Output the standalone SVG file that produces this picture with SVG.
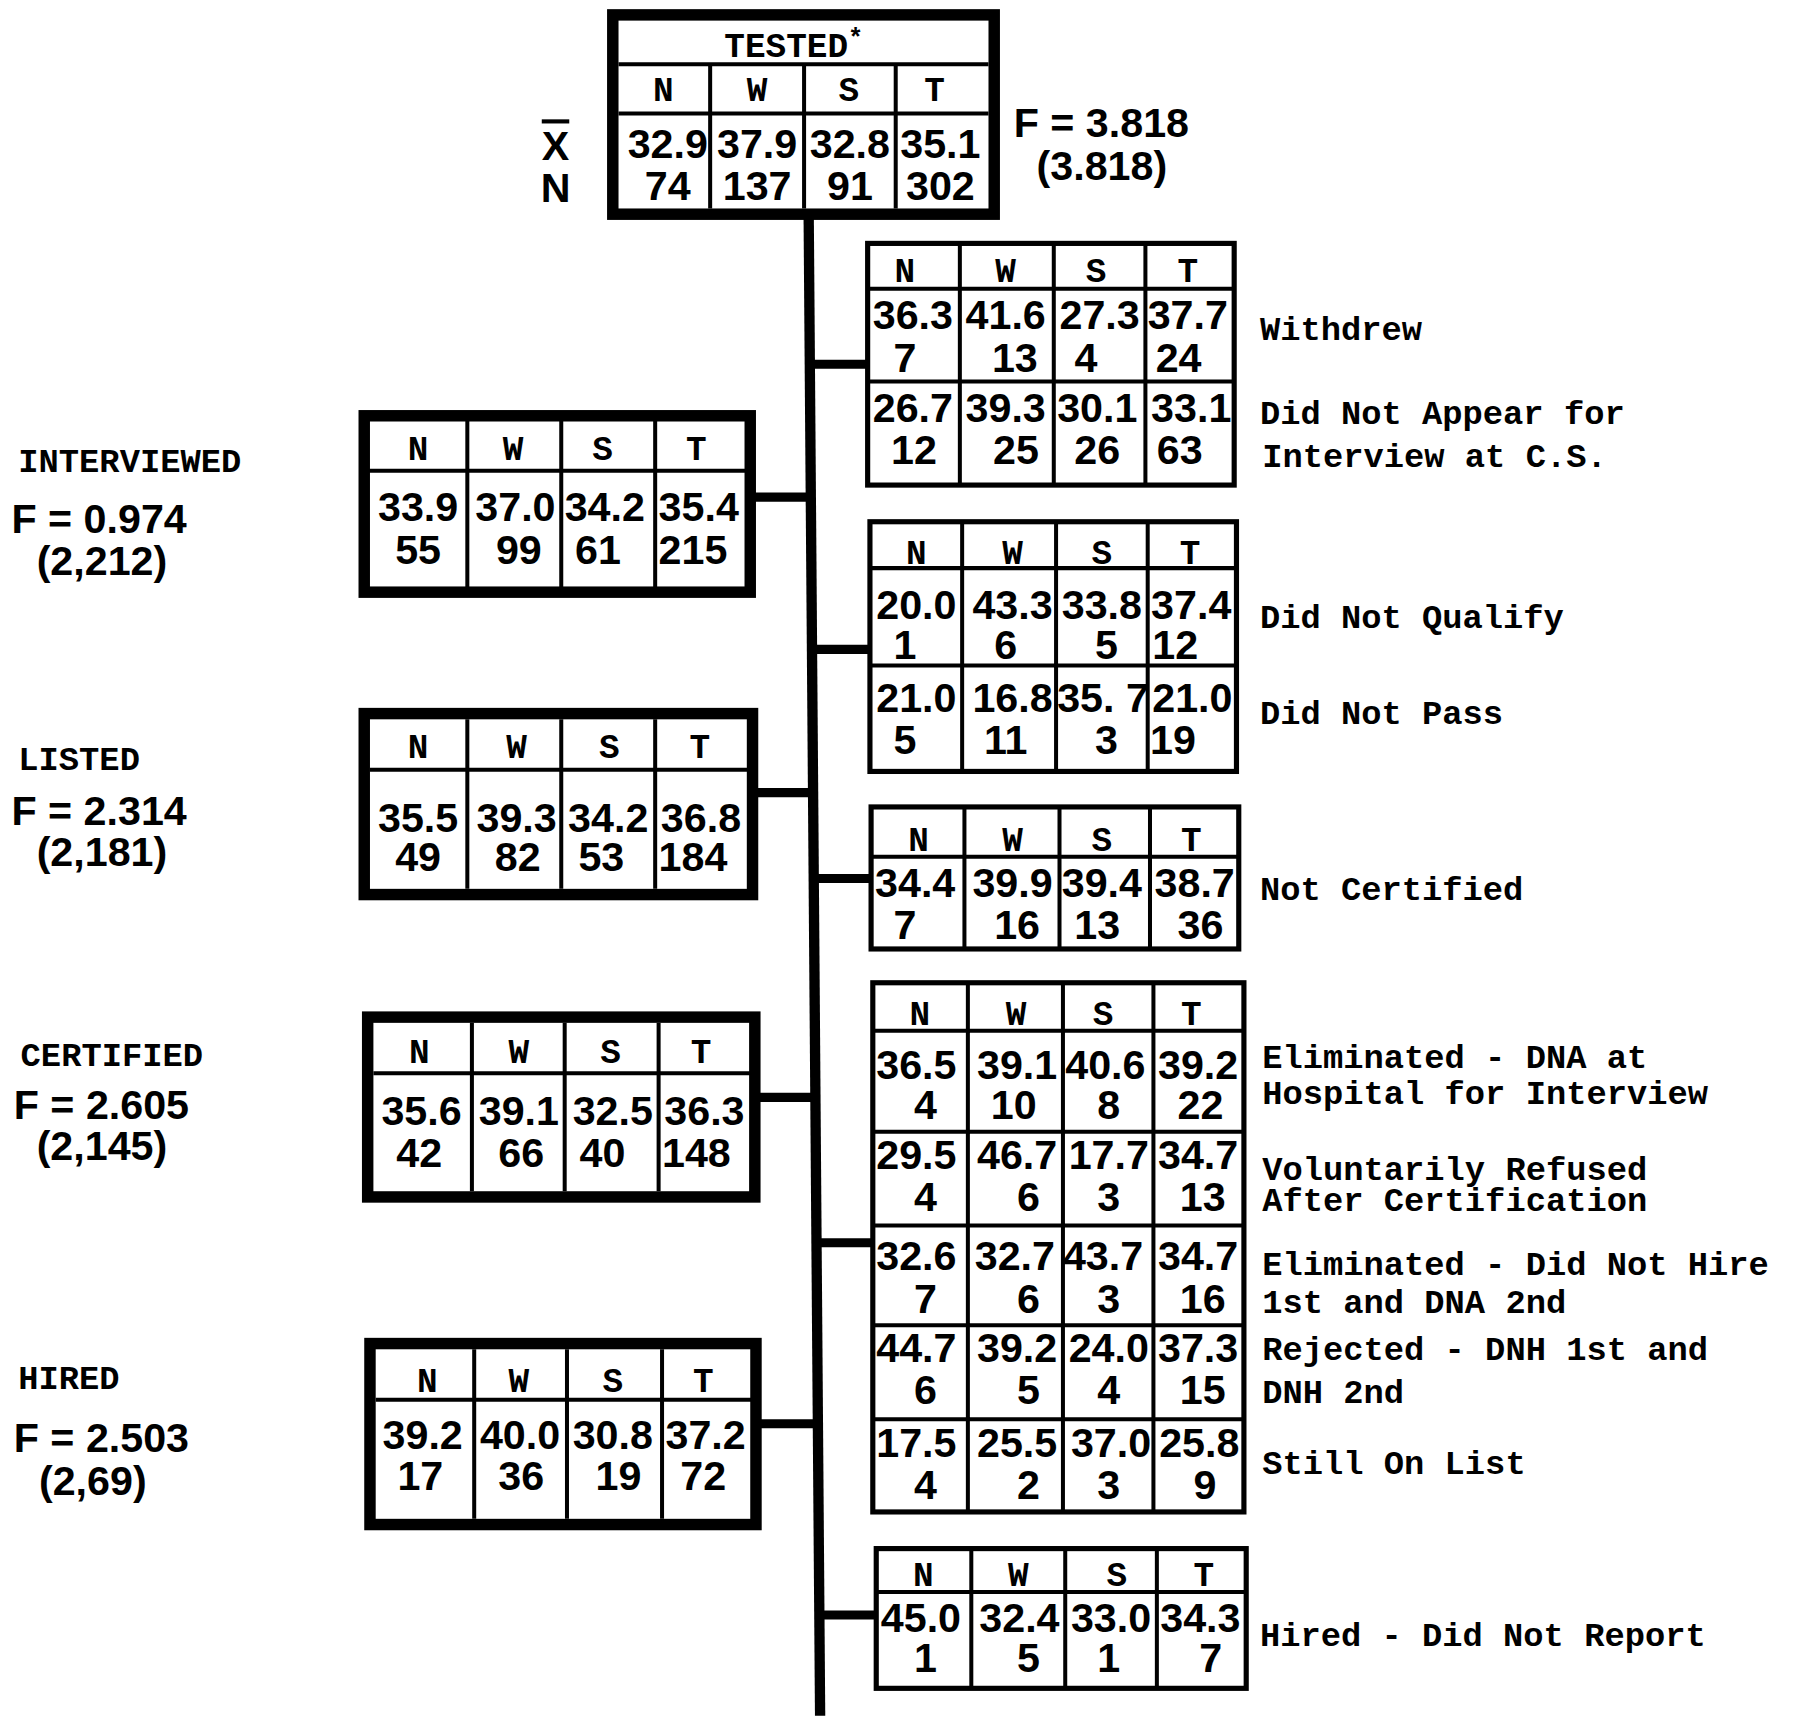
<svg xmlns="http://www.w3.org/2000/svg" width="1796" height="1716" viewBox="0 0 1796 1716">
<style>
.bk{fill:#fff;stroke:#000;stroke-width:10}
.bx{fill:#fff;stroke:#000;stroke-width:4.5}
.g{stroke:#000;stroke-width:3.5;fill:none}
.c{stroke:#000;stroke-width:8;fill:none}
.tr{stroke:#000;stroke-width:9;fill:none}
.n{font-family:"Liberation Sans",Arial,sans-serif;font-weight:bold;font-size:36px;text-anchor:middle;fill:#000}
.f{font-family:"Liberation Sans",Arial,sans-serif;font-weight:bold;font-size:36px;fill:#000}
.h{font-family:"Liberation Mono","Courier New",monospace;font-weight:bold;font-size:30px;text-anchor:middle;fill:#000}
.l{font-family:"Liberation Mono","Courier New",monospace;font-weight:bold;font-size:29.5px;fill:#000}
</style>
<rect width="1796" height="1716" fill="#fff"/>
<g transform="scale(1.14541)">
<g id="connectors">
<line class="tr" x1="706" y1="186" x2="716" y2="1498"/>
<line class="c" x1="707" y1="318" x2="757" y2="318"/>
<line class="c" x1="710" y1="567" x2="759" y2="567"/>
<line class="c" x1="712" y1="767" x2="760" y2="767"/>
<line class="c" x1="714" y1="1085" x2="762" y2="1085"/>
<line class="c" x1="716" y1="1410" x2="765" y2="1410"/>
<line class="c" x1="658" y1="434" x2="707" y2="434"/>
<line class="c" x1="660" y1="692" x2="709" y2="692"/>
<line class="c" x1="662" y1="958" x2="711" y2="958"/>
<line class="c" x1="663" y1="1243" x2="713" y2="1243"/>
</g>

<g id="tested">
<rect class="bk" x="535" y="13" width="333" height="174"/>
<path class="g" d="M540 56H863M540 99H863M620 56V182M702 56V182M782 56V182"/>
<text class="h" x="693" y="50">TESTED<tspan font-size="22" dy="-10">*</tspan></text>
<text class="h" x="579" y="88">N</text><text class="h" x="661" y="88">W</text><text class="h" x="741" y="88">S</text><text class="h" x="816" y="88">T</text>
<text class="n" x="583" y="138">32.9</text><text class="n" x="583" y="175">74</text>
<text class="n" x="661" y="138">37.9</text><text class="n" x="661" y="175">137</text>
<text class="n" x="742" y="138">32.8</text><text class="n" x="742" y="175">91</text>
<text class="n" x="821" y="138">35.1</text><text class="n" x="821" y="175">302</text>
<text class="n" x="485" y="140" text-decoration="overline">X</text>
<text class="n" x="485" y="176">N</text>
<text class="f" x="885" y="120">F = 3.818</text>
<text class="f" x="905" y="157">(3.818)</text>
</g>

<g id="withdrew">
<rect class="bx" x="757.5" y="212.5" width="320" height="211"/>
<path class="g" d="M758 252H1078M758 333H1078M838 212V424M920 212V424M1000 212V424"/>
<text class="h" x="790" y="246">N</text><text class="h" x="878" y="246">W</text><text class="h" x="957" y="246">S</text><text class="h" x="1037" y="246">T</text>
<text class="n" x="797" y="287">36.3</text><text class="n" x="790" y="325">7</text>
<text class="n" x="878" y="287">41.6</text><text class="n" x="886" y="325">13</text>
<text class="n" x="960" y="287">27.3</text><text class="n" x="948" y="325">4</text>
<text class="n" x="1037" y="287">37.7</text><text class="n" x="1029" y="325">24</text>
<text class="n" x="797" y="368">26.7</text><text class="n" x="798" y="405">12</text>
<text class="n" x="878" y="368">39.3</text><text class="n" x="887" y="405">25</text>
<text class="n" x="958" y="368">30.1</text><text class="n" x="958" y="405">26</text>
<text class="n" x="1040" y="368">33.1</text><text class="n" x="1030" y="405">63</text>
<text class="l" x="1100" y="297">Withdrew</text>
<text class="l" x="1100" y="370">Did Not Appear for</text>
<text class="l" x="1102" y="408">Interview at C.S.</text>
</g>

<g id="dnq">
<rect class="bx" x="759.5" y="455.5" width="320" height="218"/>
<path class="g" d="M760 496H1080M760 581H1080M840 456V674M922 456V674M1002 456V674"/>
<text class="h" x="800" y="492">N</text><text class="h" x="884" y="492">W</text><text class="h" x="962" y="492">S</text><text class="h" x="1039" y="492">T</text>
<text class="n" x="800" y="540">20.0</text><text class="n" x="790" y="575">1</text>
<text class="n" x="884" y="540">43.3</text><text class="n" x="878" y="575">6</text>
<text class="n" x="962" y="540">33.8</text><text class="n" x="966" y="575">5</text>
<text class="n" x="1040" y="540">37.4</text><text class="n" x="1026" y="575">12</text>
<text class="n" x="800" y="622">21.0</text><text class="n" x="790" y="658">5</text>
<text class="n" x="884" y="622">16.8</text><text class="n" x="878" y="658">11</text>
<text class="n" x="963" y="622">35. 7</text><text class="n" x="966" y="658">3</text>
<text class="n" x="1041" y="622">21.0</text><text class="n" x="1024" y="658">19</text>
<text class="l" x="1100" y="548">Did Not Qualify</text>
<text class="l" x="1100" y="632">Did Not Pass</text>
</g>

<g id="notcert">
<rect class="bx" x="760.5" y="704.5" width="321" height="124"/>
<path class="g" d="M761 748H1082M842 705V828M925 705V828M1004 705V828"/>
<text class="h" x="802" y="743">N</text><text class="h" x="884" y="743">W</text><text class="h" x="962" y="743">S</text><text class="h" x="1040" y="743">T</text>
<text class="n" x="799" y="783">34.4</text><text class="n" x="790" y="820">7</text>
<text class="n" x="884" y="783">39.9</text><text class="n" x="888" y="820">16</text>
<text class="n" x="962" y="783">39.4</text><text class="n" x="958" y="820">13</text>
<text class="n" x="1043" y="783">38.7</text><text class="n" x="1048" y="820">36</text>
<text class="l" x="1100" y="786">Not Certified</text>
</g>

<g id="postcert">
<rect class="bx" x="762" y="858" width="324" height="462"/>
<path class="g" d="M762 900H1086M762 988H1086M762 1070H1086M762 1157H1086M762 1239H1086M845 858V1320M928 858V1320M1007 858V1320"/>
<text class="h" x="803" y="895">N</text><text class="h" x="887" y="895">W</text><text class="h" x="963" y="895">S</text><text class="h" x="1040" y="895">T</text>
<text class="n" x="800" y="942">36.5</text><text class="n" x="808" y="977">4</text>
<text class="n" x="888" y="942">39.1</text><text class="n" x="885" y="977">10</text>
<text class="n" x="965" y="942">40.6</text><text class="n" x="968" y="977">8</text>
<text class="n" x="1046" y="942">39.2</text><text class="n" x="1048" y="977">22</text>
<text class="n" x="800" y="1021">29.5</text><text class="n" x="808" y="1057">4</text>
<text class="n" x="888" y="1021">46.7</text><text class="n" x="898" y="1057">6</text>
<text class="n" x="968" y="1021">17.7</text><text class="n" x="968" y="1057">3</text>
<text class="n" x="1046" y="1021">34.7</text><text class="n" x="1050" y="1057">13</text>
<text class="n" x="800" y="1109">32.6</text><text class="n" x="808" y="1146">7</text>
<text class="n" x="886" y="1109">32.7</text><text class="n" x="898" y="1146">6</text>
<text class="n" x="963" y="1109">43.7</text><text class="n" x="968" y="1146">3</text>
<text class="n" x="1046" y="1109">34.7</text><text class="n" x="1050" y="1146">16</text>
<text class="n" x="800" y="1189">44.7</text><text class="n" x="808" y="1226">6</text>
<text class="n" x="888" y="1189">39.2</text><text class="n" x="898" y="1226">5</text>
<text class="n" x="968" y="1189">24.0</text><text class="n" x="968" y="1226">4</text>
<text class="n" x="1046" y="1189">37.3</text><text class="n" x="1050" y="1226">15</text>
<text class="n" x="800" y="1272">17.5</text><text class="n" x="808" y="1309">4</text>
<text class="n" x="888" y="1272">25.5</text><text class="n" x="898" y="1309">2</text>
<text class="n" x="970" y="1272">37.0</text><text class="n" x="968" y="1309">3</text>
<text class="n" x="1047" y="1272">25.8</text><text class="n" x="1052" y="1309">9</text>
<text class="l" x="1102" y="932">Eliminated - DNA at</text>
<text class="l" x="1102" y="964">Hospital for Interview</text>
<text class="l" x="1102" y="1030">Voluntarily Refused</text>
<text class="l" x="1102" y="1057">After Certification</text>
<text class="l" x="1102" y="1113">Eliminated - Did Not Hire</text>
<text class="l" x="1102" y="1146">1st and DNA 2nd</text>
<text class="l" x="1102" y="1187">Rejected - DNH 1st and</text>
<text class="l" x="1102" y="1225">DNH 2nd</text>
<text class="l" x="1102" y="1287">Still On List</text>
</g>

<g id="hiredDNR">
<rect class="bx" x="765" y="1352" width="323" height="122"/>
<path class="g" d="M765 1390H1088M848 1352V1474M930 1352V1474M1010 1352V1474"/>
<text class="h" x="806" y="1385">N</text><text class="h" x="889" y="1385">W</text><text class="h" x="975" y="1385">S</text><text class="h" x="1051" y="1385">T</text>
<text class="n" x="804" y="1425">45.0</text><text class="n" x="808" y="1460">1</text>
<text class="n" x="890" y="1425">32.4</text><text class="n" x="898" y="1460">5</text>
<text class="n" x="970" y="1425">33.0</text><text class="n" x="968" y="1460">1</text>
<text class="n" x="1048" y="1425">34.3</text><text class="n" x="1057" y="1460">7</text>
<text class="l" x="1100" y="1437">Hired - Did Not Report</text>
</g>

<g id="interviewed">
<rect class="bk" x="318" y="363" width="337" height="154" stroke-width="9"/>
<path class="g" d="M322 411H652M408 367V513M490 367V513M572 367V513"/>
<text class="h" x="365" y="402">N</text><text class="h" x="448" y="402">W</text><text class="h" x="526" y="402">S</text><text class="h" x="608" y="402">T</text>
<text class="n" x="365" y="455">33.9</text><text class="n" x="365" y="492">55</text>
<text class="n" x="450" y="455">37.0</text><text class="n" x="453" y="492">99</text>
<text class="n" x="528" y="455">34.2</text><text class="n" x="522" y="492">61</text>
<text class="n" x="610" y="455">35.4</text><text class="n" x="605" y="492">215</text>
<text class="l" x="16" y="412">INTERVIEWED</text>
<text class="f" x="10" y="465">F = 0.974</text>
<text class="f" x="32" y="502">(2,212)</text>
</g>

<g id="listed">
<rect class="bk" x="318" y="623" width="339" height="158" stroke-width="9"/>
<path class="g" d="M323 672H653M408 628V776M490 628V776M572 628V776"/>
<text class="h" x="365" y="662">N</text><text class="h" x="451" y="662">W</text><text class="h" x="532" y="662">S</text><text class="h" x="611" y="662">T</text>
<text class="n" x="365" y="726">35.5</text><text class="n" x="365" y="760">49</text>
<text class="n" x="451" y="726">39.3</text><text class="n" x="452" y="760">82</text>
<text class="n" x="531" y="726">34.2</text><text class="n" x="525" y="760">53</text>
<text class="n" x="612" y="726">36.8</text><text class="n" x="605" y="760">184</text>
<text class="l" x="16" y="672">LISTED</text>
<text class="f" x="10" y="720">F = 2.314</text>
<text class="f" x="32" y="756">(2,181)</text>
</g>

<g id="certified">
<rect class="bk" x="321" y="888" width="338" height="157" stroke-width="9"/>
<path class="g" d="M326 937H655M412 893V1040M493 893V1040M575 893V1040"/>
<text class="h" x="366" y="928">N</text><text class="h" x="453" y="928">W</text><text class="h" x="533" y="928">S</text><text class="h" x="612" y="928">T</text>
<text class="n" x="368" y="982">35.6</text><text class="n" x="366" y="1019">42</text>
<text class="n" x="453" y="982">39.1</text><text class="n" x="455" y="1019">66</text>
<text class="n" x="535" y="982">32.5</text><text class="n" x="526" y="1019">40</text>
<text class="n" x="615" y="982">36.3</text><text class="n" x="608" y="1019">148</text>
<text class="l" x="18" y="931">CERTIFIED</text>
<text class="f" x="12" y="977">F = 2.605</text>
<text class="f" x="32" y="1013">(2,145)</text>
</g>

<g id="hired">
<rect class="bk" x="323" y="1173" width="337" height="158" stroke-width="9"/>
<path class="g" d="M328 1222H656M414 1178V1326M495 1178V1326M578 1178V1326"/>
<text class="h" x="373" y="1215">N</text><text class="h" x="453" y="1215">W</text><text class="h" x="535" y="1215">S</text><text class="h" x="614" y="1215">T</text>
<text class="n" x="369" y="1265">39.2</text><text class="n" x="367" y="1301">17</text>
<text class="n" x="454" y="1265">40.0</text><text class="n" x="455" y="1301">36</text>
<text class="n" x="535" y="1265">30.8</text><text class="n" x="540" y="1301">19</text>
<text class="n" x="616" y="1265">37.2</text><text class="n" x="614" y="1301">72</text>
<text class="l" x="16" y="1213">HIRED</text>
<text class="f" x="12" y="1268">F = 2.503</text>
<text class="f" x="34" y="1305">(2,69)</text>
</g>
</g>
</svg>
